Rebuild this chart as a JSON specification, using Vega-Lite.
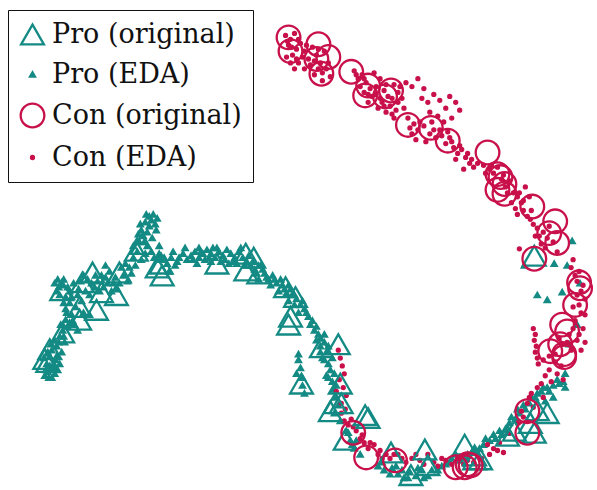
{
  "$schema": "https://vega.github.io/schema/vega-lite/v6.json",
  "width": 597,
  "height": 490,
  "autosize": {"type": "fit", "contains": "padding"},
  "padding": 0,
  "background": "white",
  "config": {
    "font": "DejaVu Serif",
    "view": {"stroke": null},
    "legend": {
      "labelFont": "DejaVu Serif",
      "labelFontSize": 27,
      "labelLimit": 400,
      "labelColor": "#111111",
      "labelOffset": 6,
      "rowPadding": 11,
      "padding": 11,
      "fillColor": "white",
      "strokeColor": "#111111",
      "symbolStrokeWidth": 2.3
    }
  },
  "data": {
    "values": [
      {"g":"Pro (EDA)","x":45,"y":382},{"g":"Pro (EDA)","x":48,"y":378},{"g":"Pro (EDA)","x":52,"y":384},{"g":"Pro (EDA)","x":55,"y":380},{"g":"Pro (EDA)","x":50,"y":372},{"g":"Pro (EDA)","x":47,"y":370},{"g":"Pro (EDA)","x":53,"y":374},{"g":"Pro (EDA)","x":58,"y":376},{"g":"Pro (EDA)","x":44,"y":364},{"g":"Pro (EDA)","x":50,"y":362},{"g":"Pro (EDA)","x":56,"y":366},{"g":"Pro (EDA)","x":60,"y":370},{"g":"Pro (EDA)","x":52,"y":356},{"g":"Pro (EDA)","x":57,"y":352},{"g":"Pro (EDA)","x":62,"y":358},{"g":"Pro (EDA)","x":55,"y":346},{"g":"Pro (EDA)","x":60,"y":342},{"g":"Pro (EDA)","x":65,"y":348},{"g":"Pro (EDA)","x":63,"y":336},{"g":"Pro (EDA)","x":68,"y":332},{"g":"Pro (EDA)","x":70,"y":328},{"g":"Pro (EDA)","x":66,"y":325},{"g":"Pro (EDA)","x":72,"y":320},{"g":"Pro (EDA)","x":75,"y":330},{"g":"Pro (EDA)","x":78,"y":336},
      {"g":"Pro (EDA)","x":55,"y":288},{"g":"Pro (EDA)","x":58,"y":284},{"g":"Pro (EDA)","x":62,"y":290},{"g":"Pro (EDA)","x":57,"y":296},{"g":"Pro (EDA)","x":60,"y":300},{"g":"Pro (EDA)","x":66,"y":302},{"g":"Pro (EDA)","x":70,"y":296},{"g":"Pro (EDA)","x":74,"y":288},{"g":"Pro (EDA)","x":78,"y":300},{"g":"Pro (EDA)","x":82,"y":306},{"g":"Pro (EDA)","x":86,"y":296},{"g":"Pro (EDA)","x":90,"y":300},{"g":"Pro (EDA)","x":95,"y":292},{"g":"Pro (EDA)","x":88,"y":284},{"g":"Pro (EDA)","x":84,"y":280},{"g":"Pro (EDA)","x":98,"y":286},{"g":"Pro (EDA)","x":102,"y":280},{"g":"Pro (EDA)","x":104,"y":292},{"g":"Pro (EDA)","x":108,"y":288},{"g":"Pro (EDA)","x":112,"y":296},{"g":"Pro (EDA)","x":116,"y":282},{"g":"Pro (EDA)","x":120,"y":288},{"g":"Pro (EDA)","x":124,"y":280},{"g":"Pro (EDA)","x":128,"y":286},{"g":"Pro (EDA)","x":132,"y":278},{"g":"Pro (EDA)","x":110,"y":276},{"g":"Pro (EDA)","x":106,"y":270},{"g":"Pro (EDA)","x":70,"y":308},{"g":"Pro (EDA)","x":76,"y":312},{"g":"Pro (EDA)","x":84,"y":318},{"g":"Pro (EDA)","x":90,"y":320},{"g":"Pro (EDA)","x":66,"y":314},
      {"g":"Pro (EDA)","x":134,"y":262},{"g":"Pro (EDA)","x":138,"y":256},{"g":"Pro (EDA)","x":136,"y":270},{"g":"Pro (EDA)","x":142,"y":264},{"g":"Pro (EDA)","x":146,"y":258},{"g":"Pro (EDA)","x":140,"y":246},{"g":"Pro (EDA)","x":144,"y":240},{"g":"Pro (EDA)","x":148,"y":236},{"g":"Pro (EDA)","x":150,"y":230},{"g":"Pro (EDA)","x":146,"y":226},{"g":"Pro (EDA)","x":152,"y":224},{"g":"Pro (EDA)","x":156,"y":228},{"g":"Pro (EDA)","x":150,"y":220},{"g":"Pro (EDA)","x":158,"y":222},{"g":"Pro (EDA)","x":142,"y":234},{"g":"Pro (EDA)","x":138,"y":244},{"g":"Pro (EDA)","x":148,"y":250},{"g":"Pro (EDA)","x":152,"y":256},{"g":"Pro (EDA)","x":155,"y":262},{"g":"Pro (EDA)","x":160,"y":258},{"g":"Pro (EDA)","x":165,"y":262},{"g":"Pro (EDA)","x":168,"y":268},{"g":"Pro (EDA)","x":172,"y":262},{"g":"Pro (EDA)","x":170,"y":276},{"g":"Pro (EDA)","x":176,"y":270},
      {"g":"Pro (EDA)","x":180,"y":262},{"g":"Pro (EDA)","x":184,"y":258},{"g":"Pro (EDA)","x":188,"y":264},{"g":"Pro (EDA)","x":192,"y":260},{"g":"Pro (EDA)","x":196,"y":256},{"g":"Pro (EDA)","x":200,"y":262},{"g":"Pro (EDA)","x":204,"y":258},{"g":"Pro (EDA)","x":208,"y":254},{"g":"Pro (EDA)","x":212,"y":258},{"g":"Pro (EDA)","x":216,"y":262},{"g":"Pro (EDA)","x":220,"y":256},{"g":"Pro (EDA)","x":224,"y":260},{"g":"Pro (EDA)","x":228,"y":254},{"g":"Pro (EDA)","x":232,"y":258},{"g":"Pro (EDA)","x":236,"y":262},{"g":"Pro (EDA)","x":240,"y":256},{"g":"Pro (EDA)","x":244,"y":262},{"g":"Pro (EDA)","x":212,"y":266},{"g":"Pro (EDA)","x":222,"y":266},{"g":"Pro (EDA)","x":230,"y":268},{"g":"Pro (EDA)","x":200,"y":252},{"g":"Pro (EDA)","x":206,"y":264},{"g":"Pro (EDA)","x":218,"y":252},{"g":"Pro (EDA)","x":238,"y":268},
      {"g":"Pro (EDA)","x":248,"y":266},{"g":"Pro (EDA)","x":252,"y":270},{"g":"Pro (EDA)","x":256,"y":274},{"g":"Pro (EDA)","x":262,"y":270},{"g":"Pro (EDA)","x":266,"y":278},{"g":"Pro (EDA)","x":270,"y":284},{"g":"Pro (EDA)","x":274,"y":280},{"g":"Pro (EDA)","x":278,"y":288},{"g":"Pro (EDA)","x":282,"y":284},{"g":"Pro (EDA)","x":286,"y":294},{"g":"Pro (EDA)","x":290,"y":290},{"g":"Pro (EDA)","x":294,"y":300},{"g":"Pro (EDA)","x":298,"y":304},{"g":"Pro (EDA)","x":302,"y":310},{"g":"Pro (EDA)","x":306,"y":314},{"g":"Pro (EDA)","x":280,"y":296},{"g":"Pro (EDA)","x":272,"y":290},{"g":"Pro (EDA)","x":260,"y":284},{"g":"Pro (EDA)","x":290,"y":306},{"g":"Pro (EDA)","x":300,"y":318},{"g":"Pro (EDA)","x":310,"y":322},
      {"g":"Pro (EDA)","x":312,"y":330},{"g":"Pro (EDA)","x":316,"y":336},{"g":"Pro (EDA)","x":320,"y":340},{"g":"Pro (EDA)","x":318,"y":346},{"g":"Pro (EDA)","x":322,"y":352},{"g":"Pro (EDA)","x":326,"y":348},{"g":"Pro (EDA)","x":328,"y":358},{"g":"Pro (EDA)","x":324,"y":364},{"g":"Pro (EDA)","x":330,"y":370},{"g":"Pro (EDA)","x":332,"y":376},{"g":"Pro (EDA)","x":328,"y":382},{"g":"Pro (EDA)","x":334,"y":388},{"g":"Pro (EDA)","x":300,"y":366},{"g":"Pro (EDA)","x":302,"y":374},{"g":"Pro (EDA)","x":298,"y":380},{"g":"Pro (EDA)","x":304,"y":392},{"g":"Pro (EDA)","x":306,"y":400},{"g":"Pro (EDA)","x":336,"y":396},{"g":"Pro (EDA)","x":338,"y":404},{"g":"Pro (EDA)","x":340,"y":412},{"g":"Pro (EDA)","x":336,"y":420},{"g":"Pro (EDA)","x":342,"y":428},
      {"g":"Pro (EDA)","x":348,"y":438},{"g":"Pro (EDA)","x":352,"y":448},{"g":"Pro (EDA)","x":356,"y":456},{"g":"Pro (EDA)","x":362,"y":462},{"g":"Pro (EDA)","x":380,"y":474},{"g":"Pro (EDA)","x":386,"y":478},{"g":"Pro (EDA)","x":394,"y":476},{"g":"Pro (EDA)","x":400,"y":482},{"g":"Pro (EDA)","x":406,"y":486},{"g":"Pro (EDA)","x":412,"y":480},{"g":"Pro (EDA)","x":418,"y":484},{"g":"Pro (EDA)","x":424,"y":478},{"g":"Pro (EDA)","x":430,"y":484},{"g":"Pro (EDA)","x":440,"y":478},{"g":"Pro (EDA)","x":448,"y":472},{"g":"Pro (EDA)","x":454,"y":466},{"g":"Pro (EDA)","x":462,"y":468},{"g":"Pro (EDA)","x":470,"y":462},{"g":"Pro (EDA)","x":478,"y":458},{"g":"Pro (EDA)","x":486,"y":452},{"g":"Pro (EDA)","x":492,"y":448},{"g":"Pro (EDA)","x":498,"y":446},{"g":"Pro (EDA)","x":504,"y":442},
      {"g":"Pro (EDA)","x":508,"y":436},{"g":"Pro (EDA)","x":512,"y":430},{"g":"Pro (EDA)","x":518,"y":426},{"g":"Pro (EDA)","x":522,"y":420},{"g":"Pro (EDA)","x":528,"y":416},{"g":"Pro (EDA)","x":532,"y":410},{"g":"Pro (EDA)","x":538,"y":404},{"g":"Pro (EDA)","x":544,"y":398},{"g":"Pro (EDA)","x":550,"y":394},{"g":"Pro (EDA)","x":556,"y":392},{"g":"Pro (EDA)","x":562,"y":390},{"g":"Pro (EDA)","x":568,"y":394},{"g":"Pro (EDA)","x":548,"y":408},{"g":"Pro (EDA)","x":556,"y":404},
      {"g":"Pro (EDA)","x":527,"y":270},{"g":"Pro (EDA)","x":557,"y":268},{"g":"Pro (EDA)","x":570,"y":270},{"g":"Pro (EDA)","x":565,"y":297},{"g":"Pro (EDA)","x":550,"y":305},{"g":"Pro (EDA)","x":575,"y":245},{"g":"Pro (EDA)","x":583,"y":288},{"g":"Pro (EDA)","x":580,"y":330},{"g":"Pro (EDA)","x":540,"y":300},{"g":"Pro (EDA)","x":572,"y":350},{"g":"Pro (EDA)","x":568,"y":380},
      {"g":"Pro (EDA)","x":46,"y":376},{"g":"Pro (EDA)","x":49,"y":384},{"g":"Pro (EDA)","x":54,"y":370},{"g":"Pro (EDA)","x":57,"y":362},{"g":"Pro (EDA)","x":51,"y":350},{"g":"Pro (EDA)","x":48,"y":358},{"g":"Pro (EDA)","x":59,"y":348},{"g":"Pro (EDA)","x":64,"y":342},{"g":"Pro (EDA)","x":61,"y":330},{"g":"Pro (EDA)","x":67,"y":318},{"g":"Pro (EDA)","x":73,"y":326},{"g":"Pro (EDA)","x":64,"y":308},{"g":"Pro (EDA)","x":59,"y":292},{"g":"Pro (EDA)","x":64,"y":284},{"g":"Pro (EDA)","x":68,"y":292},{"g":"Pro (EDA)","x":72,"y":302},{"g":"Pro (EDA)","x":79,"y":294},{"g":"Pro (EDA)","x":81,"y":286},{"g":"Pro (EDA)","x":92,"y":288},{"g":"Pro (EDA)","x":96,"y":280},{"g":"Pro (EDA)","x":100,"y":296},{"g":"Pro (EDA)","x":106,"y":282},{"g":"Pro (EDA)","x":114,"y":288},{"g":"Pro (EDA)","x":118,"y":294},{"g":"Pro (EDA)","x":122,"y":272},{"g":"Pro (EDA)","x":126,"y":268},{"g":"Pro (EDA)","x":130,"y":272},{"g":"Pro (EDA)","x":134,"y":250},{"g":"Pro (EDA)","x":139,"y":238},{"g":"Pro (EDA)","x":145,"y":246},{"g":"Pro (EDA)","x":141,"y":228},{"g":"Pro (EDA)","x":147,"y":218},{"g":"Pro (EDA)","x":154,"y":218},{"g":"Pro (EDA)","x":157,"y":234},{"g":"Pro (EDA)","x":153,"y":242},{"g":"Pro (EDA)","x":160,"y":250},{"g":"Pro (EDA)","x":162,"y":264},{"g":"Pro (EDA)","x":174,"y":256},{"g":"Pro (EDA)","x":178,"y":266},{"g":"Pro (EDA)","x":186,"y":252},{"g":"Pro (EDA)","x":194,"y":264},{"g":"Pro (EDA)","x":198,"y":268},{"g":"Pro (EDA)","x":202,"y":256},{"g":"Pro (EDA)","x":210,"y":262},{"g":"Pro (EDA)","x":214,"y":252},{"g":"Pro (EDA)","x":226,"y":264},{"g":"Pro (EDA)","x":234,"y":266},{"g":"Pro (EDA)","x":242,"y":252},{"g":"Pro (EDA)","x":246,"y":270},{"g":"Pro (EDA)","x":250,"y":260},{"g":"Pro (EDA)","x":254,"y":266},{"g":"Pro (EDA)","x":258,"y":278},{"g":"Pro (EDA)","x":264,"y":274},{"g":"Pro (EDA)","x":268,"y":282},{"g":"Pro (EDA)","x":276,"y":284},{"g":"Pro (EDA)","x":284,"y":290},{"g":"Pro (EDA)","x":288,"y":298},{"g":"Pro (EDA)","x":292,"y":294},{"g":"Pro (EDA)","x":296,"y":310},{"g":"Pro (EDA)","x":304,"y":306},{"g":"Pro (EDA)","x":308,"y":318},{"g":"Pro (EDA)","x":314,"y":326},{"g":"Pro (EDA)","x":318,"y":332},{"g":"Pro (EDA)","x":322,"y":344},{"g":"Pro (EDA)","x":326,"y":340},{"g":"Pro (EDA)","x":330,"y":352},{"g":"Pro (EDA)","x":326,"y":366},{"g":"Pro (EDA)","x":322,"y":358},{"g":"Pro (EDA)","x":334,"y":364},{"g":"Pro (EDA)","x":330,"y":384},{"g":"Pro (EDA)","x":336,"y":380},{"g":"Pro (EDA)","x":338,"y":392},{"g":"Pro (EDA)","x":304,"y":384},{"g":"Pro (EDA)","x":300,"y":360},{"g":"Pro (EDA)","x":350,"y":440},{"g":"Pro (EDA)","x":354,"y":452},{"g":"Pro (EDA)","x":358,"y":448},{"g":"Pro (EDA)","x":384,"y":470},{"g":"Pro (EDA)","x":392,"y":482},{"g":"Pro (EDA)","x":398,"y":474},{"g":"Pro (EDA)","x":404,"y":478},{"g":"Pro (EDA)","x":410,"y":486},{"g":"Pro (EDA)","x":420,"y":476},{"g":"Pro (EDA)","x":426,"y":486},{"g":"Pro (EDA)","x":434,"y":478},{"g":"Pro (EDA)","x":444,"y":474},{"g":"Pro (EDA)","x":452,"y":470},{"g":"Pro (EDA)","x":458,"y":462},{"g":"Pro (EDA)","x":466,"y":466},{"g":"Pro (EDA)","x":474,"y":460},{"g":"Pro (EDA)","x":482,"y":456},{"g":"Pro (EDA)","x":488,"y":446},{"g":"Pro (EDA)","x":496,"y":442},{"g":"Pro (EDA)","x":502,"y":438},{"g":"Pro (EDA)","x":510,"y":440},{"g":"Pro (EDA)","x":514,"y":424},{"g":"Pro (EDA)","x":520,"y":416},{"g":"Pro (EDA)","x":526,"y":412},{"g":"Pro (EDA)","x":534,"y":404},{"g":"Pro (EDA)","x":540,"y":400},{"g":"Pro (EDA)","x":546,"y":394},{"g":"Pro (EDA)","x":552,"y":398},{"g":"Pro (EDA)","x":560,"y":386},{"g":"Pro (EDA)","x":566,"y":388},

      {"g":"Con (EDA)","x":287,"y":36},{"g":"Con (EDA)","x":292,"y":40},{"g":"Con (EDA)","x":296,"y":34},{"g":"Con (EDA)","x":290,"y":46},{"g":"Con (EDA)","x":298,"y":50},{"g":"Con (EDA)","x":294,"y":56},{"g":"Con (EDA)","x":288,"y":58},{"g":"Con (EDA)","x":302,"y":44},{"g":"Con (EDA)","x":306,"y":52},{"g":"Con (EDA)","x":310,"y":60},{"g":"Con (EDA)","x":314,"y":48},{"g":"Con (EDA)","x":318,"y":56},{"g":"Con (EDA)","x":322,"y":64},{"g":"Con (EDA)","x":326,"y":52},{"g":"Con (EDA)","x":320,"y":70},{"g":"Con (EDA)","x":316,"y":76},{"g":"Con (EDA)","x":328,"y":70},{"g":"Con (EDA)","x":332,"y":78},{"g":"Con (EDA)","x":324,"y":82},{"g":"Con (EDA)","x":300,"y":64},{"g":"Con (EDA)","x":306,"y":70},{"g":"Con (EDA)","x":296,"y":70},
      {"g":"Con (EDA)","x":356,"y":72},{"g":"Con (EDA)","x":360,"y":80},{"g":"Con (EDA)","x":364,"y":76},{"g":"Con (EDA)","x":368,"y":84},{"g":"Con (EDA)","x":372,"y":90},{"g":"Con (EDA)","x":366,"y":94},{"g":"Con (EDA)","x":374,"y":98},{"g":"Con (EDA)","x":378,"y":88},{"g":"Con (EDA)","x":382,"y":80},{"g":"Con (EDA)","x":386,"y":92},{"g":"Con (EDA)","x":390,"y":98},{"g":"Con (EDA)","x":384,"y":104},{"g":"Con (EDA)","x":392,"y":108},{"g":"Con (EDA)","x":396,"y":86},{"g":"Con (EDA)","x":400,"y":94},{"g":"Con (EDA)","x":404,"y":100},{"g":"Con (EDA)","x":398,"y":112},{"g":"Con (EDA)","x":388,"y":114},{"g":"Con (EDA)","x":380,"y":110},{"g":"Con (EDA)","x":362,"y":88},{"g":"Con (EDA)","x":376,"y":74},{"g":"Con (EDA)","x":370,"y":104},{"g":"Con (EDA)","x":394,"y":116},{"g":"Con (EDA)","x":406,"y":110},
      {"g":"Con (EDA)","x":408,"y":84},{"g":"Con (EDA)","x":414,"y":88},{"g":"Con (EDA)","x":420,"y":80},{"g":"Con (EDA)","x":426,"y":90},{"g":"Con (EDA)","x":424,"y":100},{"g":"Con (EDA)","x":430,"y":104},{"g":"Con (EDA)","x":436,"y":96},{"g":"Con (EDA)","x":442,"y":102},{"g":"Con (EDA)","x":448,"y":110},{"g":"Con (EDA)","x":452,"y":98},{"g":"Con (EDA)","x":458,"y":104},{"g":"Con (EDA)","x":462,"y":112},{"g":"Con (EDA)","x":440,"y":118},{"g":"Con (EDA)","x":446,"y":124},{"g":"Con (EDA)","x":454,"y":120},{"g":"Con (EDA)","x":432,"y":114},
      {"g":"Con (EDA)","x":410,"y":120},{"g":"Con (EDA)","x":416,"y":126},{"g":"Con (EDA)","x":420,"y":132},{"g":"Con (EDA)","x":414,"y":136},{"g":"Con (EDA)","x":426,"y":128},{"g":"Con (EDA)","x":432,"y":136},{"g":"Con (EDA)","x":438,"y":140},{"g":"Con (EDA)","x":442,"y":132},{"g":"Con (EDA)","x":448,"y":146},{"g":"Con (EDA)","x":452,"y":140},{"g":"Con (EDA)","x":456,"y":150},{"g":"Con (EDA)","x":460,"y":156},{"g":"Con (EDA)","x":464,"y":152},{"g":"Con (EDA)","x":468,"y":160},{"g":"Con (EDA)","x":472,"y":166},{"g":"Con (EDA)","x":476,"y":170},{"g":"Con (EDA)","x":466,"y":172},{"g":"Con (EDA)","x":458,"y":162},{"g":"Con (EDA)","x":428,"y":144},{"g":"Con (EDA)","x":418,"y":142},
      {"g":"Con (EDA)","x":486,"y":168},{"g":"Con (EDA)","x":492,"y":172},{"g":"Con (EDA)","x":496,"y":176},{"g":"Con (EDA)","x":500,"y":170},{"g":"Con (EDA)","x":504,"y":182},{"g":"Con (EDA)","x":508,"y":190},{"g":"Con (EDA)","x":512,"y":184},{"g":"Con (EDA)","x":516,"y":196},{"g":"Con (EDA)","x":520,"y":200},{"g":"Con (EDA)","x":524,"y":206},{"g":"Con (EDA)","x":518,"y":212},{"g":"Con (EDA)","x":526,"y":214},{"g":"Con (EDA)","x":530,"y":220},{"g":"Con (EDA)","x":522,"y":196},{"g":"Con (EDA)","x":528,"y":190},{"g":"Con (EDA)","x":533,"y":223},{"g":"Con (EDA)","x":532,"y":200},
      {"g":"Con (EDA)","x":540,"y":232},{"g":"Con (EDA)","x":546,"y":236},{"g":"Con (EDA)","x":550,"y":242},{"g":"Con (EDA)","x":556,"y":246},{"g":"Con (EDA)","x":544,"y":248},{"g":"Con (EDA)","x":522,"y":253},{"g":"Con (EDA)","x":538,"y":240},{"g":"Con (EDA)","x":560,"y":256},
      {"g":"Con (EDA)","x":574,"y":272},{"g":"Con (EDA)","x":578,"y":280},{"g":"Con (EDA)","x":582,"y":276},{"g":"Con (EDA)","x":586,"y":290},{"g":"Con (EDA)","x":580,"y":300},{"g":"Con (EDA)","x":588,"y":304},{"g":"Con (EDA)","x":576,"y":312},{"g":"Con (EDA)","x":584,"y":318},{"g":"Con (EDA)","x":578,"y":326},{"g":"Con (EDA)","x":586,"y":334},{"g":"Con (EDA)","x":572,"y":340},{"g":"Con (EDA)","x":580,"y":346},{"g":"Con (EDA)","x":574,"y":356},{"g":"Con (EDA)","x":566,"y":350},{"g":"Con (EDA)","x":562,"y":344},{"g":"Con (EDA)","x":588,"y":348},
      {"g":"Con (EDA)","x":536,"y":334},{"g":"Con (EDA)","x":538,"y":340},{"g":"Con (EDA)","x":537,"y":346},{"g":"Con (EDA)","x":539,"y":352},{"g":"Con (EDA)","x":538,"y":358},{"g":"Con (EDA)","x":540,"y":364},{"g":"Con (EDA)","x":541,"y":370},
      {"g":"Con (EDA)","x":546,"y":366},{"g":"Con (EDA)","x":552,"y":362},{"g":"Con (EDA)","x":558,"y":368},{"g":"Con (EDA)","x":564,"y":372},{"g":"Con (EDA)","x":560,"y":380},{"g":"Con (EDA)","x":566,"y":386},{"g":"Con (EDA)","x":554,"y":388},{"g":"Con (EDA)","x":548,"y":382},{"g":"Con (EDA)","x":540,"y":394},{"g":"Con (EDA)","x":534,"y":400},{"g":"Con (EDA)","x":546,"y":404},{"g":"Con (EDA)","x":530,"y":410},{"g":"Con (EDA)","x":536,"y":414},{"g":"Con (EDA)","x":526,"y":424},{"g":"Con (EDA)","x":520,"y":430},
      {"g":"Con (EDA)","x":490,"y":452},{"g":"Con (EDA)","x":496,"y":456},{"g":"Con (EDA)","x":502,"y":450},{"g":"Con (EDA)","x":506,"y":460},{"g":"Con (EDA)","x":492,"y":462},{"g":"Con (EDA)","x":484,"y":466},
      {"g":"Con (EDA)","x":343,"y":420},{"g":"Con (EDA)","x":346,"y":428},{"g":"Con (EDA)","x":350,"y":432},{"g":"Con (EDA)","x":353,"y":426},{"g":"Con (EDA)","x":358,"y":438},{"g":"Con (EDA)","x":362,"y":446},{"g":"Con (EDA)","x":366,"y":450},{"g":"Con (EDA)","x":370,"y":456},{"g":"Con (EDA)","x":376,"y":452},{"g":"Con (EDA)","x":382,"y":458},{"g":"Con (EDA)","x":388,"y":462},{"g":"Con (EDA)","x":384,"y":466},{"g":"Con (EDA)","x":392,"y":466},{"g":"Con (EDA)","x":400,"y":462},{"g":"Con (EDA)","x":408,"y":470},{"g":"Con (EDA)","x":414,"y":466},{"g":"Con (EDA)","x":422,"y":468},{"g":"Con (EDA)","x":430,"y":462},{"g":"Con (EDA)","x":436,"y":470},{"g":"Con (EDA)","x":440,"y":474},{"g":"Con (EDA)","x":448,"y":468},{"g":"Con (EDA)","x":460,"y":466},{"g":"Con (EDA)","x":466,"y":472},{"g":"Con (EDA)","x":472,"y":464},{"g":"Con (EDA)","x":476,"y":470},
      {"g":"Con (EDA)","x":340,"y":356},{"g":"Con (EDA)","x":342,"y":364},{"g":"Con (EDA)","x":344,"y":372},{"g":"Con (EDA)","x":346,"y":380},{"g":"Con (EDA)","x":341,"y":386},{"g":"Con (EDA)","x":345,"y":394},{"g":"Con (EDA)","x":348,"y":402},{"g":"Con (EDA)","x":343,"y":410},{"g":"Con (EDA)","x":347,"y":416},{"g":"Con (EDA)","x":338,"y":398},
      {"g":"Con (EDA)","x":289,"y":42},{"g":"Con (EDA)","x":293,"y":48},{"g":"Con (EDA)","x":300,"y":40},{"g":"Con (EDA)","x":304,"y":58},{"g":"Con (EDA)","x":308,"y":46},{"g":"Con (EDA)","x":312,"y":66},{"g":"Con (EDA)","x":316,"y":62},{"g":"Con (EDA)","x":320,"y":50},{"g":"Con (EDA)","x":324,"y":74},{"g":"Con (EDA)","x":330,"y":64},{"g":"Con (EDA)","x":298,"y":60},{"g":"Con (EDA)","x":292,"y":64},
      {"g":"Con (EDA)","x":358,"y":76},{"g":"Con (EDA)","x":366,"y":80},{"g":"Con (EDA)","x":370,"y":96},{"g":"Con (EDA)","x":378,"y":96},{"g":"Con (EDA)","x":382,"y":100},{"g":"Con (EDA)","x":388,"y":86},{"g":"Con (EDA)","x":394,"y":100},{"g":"Con (EDA)","x":400,"y":104},{"g":"Con (EDA)","x":396,"y":120},{"g":"Con (EDA)","x":386,"y":108},{"g":"Con (EDA)","x":402,"y":88},
      {"g":"Con (EDA)","x":412,"y":130},{"g":"Con (EDA)","x":422,"y":124},{"g":"Con (EDA)","x":434,"y":124},{"g":"Con (EDA)","x":436,"y":132},{"g":"Con (EDA)","x":444,"y":138},{"g":"Con (EDA)","x":450,"y":134},{"g":"Con (EDA)","x":454,"y":144},{"g":"Con (EDA)","x":462,"y":148},{"g":"Con (EDA)","x":470,"y":156},{"g":"Con (EDA)","x":474,"y":162},{"g":"Con (EDA)","x":480,"y":166},{"g":"Con (EDA)","x":488,"y":176},{"g":"Con (EDA)","x":494,"y":168},{"g":"Con (EDA)","x":506,"y":178},{"g":"Con (EDA)","x":510,"y":196},{"g":"Con (EDA)","x":514,"y":206},{"g":"Con (EDA)","x":520,"y":218},{"g":"Con (EDA)","x":526,"y":204},{"g":"Con (EDA)","x":534,"y":214},{"g":"Con (EDA)","x":536,"y":228},{"g":"Con (EDA)","x":542,"y":240},{"g":"Con (EDA)","x":548,"y":252},{"g":"Con (EDA)","x":552,"y":230},
      {"g":"Con (EDA)","x":576,"y":264},{"g":"Con (EDA)","x":580,"y":286},{"g":"Con (EDA)","x":584,"y":296},{"g":"Con (EDA)","x":582,"y":310},{"g":"Con (EDA)","x":588,"y":320},{"g":"Con (EDA)","x":576,"y":334},{"g":"Con (EDA)","x":582,"y":340},{"g":"Con (EDA)","x":570,"y":348},{"g":"Con (EDA)","x":584,"y":356},
      {"g":"Con (EDA)","x":355,"y":434},{"g":"Con (EDA)","x":364,"y":442},{"g":"Con (EDA)","x":372,"y":450},{"g":"Con (EDA)","x":380,"y":462},{"g":"Con (EDA)","x":396,"y":462},{"g":"Con (EDA)","x":404,"y":466},{"g":"Con (EDA)","x":418,"y":462},{"g":"Con (EDA)","x":426,"y":472},{"g":"Con (EDA)","x":444,"y":466},{"g":"Con (EDA)","x":454,"y":472},{"g":"Con (EDA)","x":470,"y":468},{"g":"Con (EDA)","x":500,"y":458},{"g":"Con (EDA)","x":512,"y":440},{"g":"Con (EDA)","x":524,"y":418},{"g":"Con (EDA)","x":532,"y":404},{"g":"Con (EDA)","x":544,"y":390},{"g":"Con (EDA)","x":552,"y":376},{"g":"Con (EDA)","x":558,"y":360},

      {"g":"Pro (original)","x":45,"y":365},{"g":"Pro (original)","x":48,"y":368},{"g":"Pro (original)","x":50,"y":355},{"g":"Pro (original)","x":63,"y":338},{"g":"Pro (original)","x":80,"y":325},{"g":"Pro (original)","x":80,"y":312},{"g":"Pro (original)","x":97,"y":315},{"g":"Pro (original)","x":62,"y":295},{"g":"Pro (original)","x":83,"y":287},{"g":"Pro (original)","x":102,"y":297},{"g":"Pro (original)","x":117,"y":300},{"g":"Pro (original)","x":93,"y":277},{"g":"Pro (original)","x":120,"y":277},{"g":"Pro (original)","x":137,"y":255},{"g":"Pro (original)","x":143,"y":248},{"g":"Pro (original)","x":158,"y":272},{"g":"Pro (original)","x":163,"y":280},{"g":"Pro (original)","x":162,"y":268},{"g":"Pro (original)","x":218,"y":268},{"g":"Pro (original)","x":247,"y":258},{"g":"Pro (original)","x":255,"y":262},{"g":"Pro (original)","x":247,"y":275},{"g":"Pro (original)","x":260,"y":278},{"g":"Pro (original)","x":287,"y":292},{"g":"Pro (original)","x":297,"y":302},{"g":"Pro (original)","x":292,"y":322},{"g":"Pro (original)","x":290,"y":330},{"g":"Pro (original)","x":323,"y":353},{"g":"Pro (original)","x":340,"y":350},{"g":"Pro (original)","x":303,"y":390},{"g":"Pro (original)","x":342,"y":390},{"g":"Pro (original)","x":337,"y":410},{"g":"Pro (original)","x":332,"y":418},{"g":"Pro (original)","x":367,"y":422},{"g":"Pro (original)","x":343,"y":410},{"g":"Pro (original)","x":370,"y":425},{"g":"Pro (original)","x":347,"y":447},{"g":"Pro (original)","x":393,"y":460},{"g":"Pro (original)","x":413,"y":483},{"g":"Pro (original)","x":427,"y":457},{"g":"Pro (original)","x":430,"y":473},{"g":"Pro (original)","x":467,"y":452},{"g":"Pro (original)","x":477,"y":467},{"g":"Pro (original)","x":540,"y":417},{"g":"Pro (original)","x":550,"y":420},{"g":"Pro (original)","x":533,"y":430},{"g":"Pro (original)","x":517,"y":438},{"g":"Pro (original)","x":537,"y":440},{"g":"Pro (original)","x":510,"y":443},{"g":"Pro (original)","x":477,"y":463},{"g":"Pro (original)","x":483,"y":467},{"g":"Pro (original)","x":537,"y":260},

      {"g":"Con (original)","x":290,"y":38},{"g":"Con (original)","x":292,"y":52},{"g":"Con (original)","x":320,"y":45},{"g":"Con (original)","x":318,"y":60},{"g":"Con (original)","x":323,"y":75},{"g":"Con (original)","x":330,"y":58},{"g":"Con (original)","x":353,"y":73},{"g":"Con (original)","x":370,"y":87},{"g":"Con (original)","x":367,"y":97},{"g":"Con (original)","x":387,"y":98},{"g":"Con (original)","x":393,"y":92},{"g":"Con (original)","x":410,"y":127},{"g":"Con (original)","x":433,"y":130},{"g":"Con (original)","x":450,"y":143},{"g":"Con (original)","x":490,"y":155},{"g":"Con (original)","x":500,"y":177},{"g":"Con (original)","x":500,"y":193},{"g":"Con (original)","x":507,"y":187},{"g":"Con (original)","x":503,"y":180},{"g":"Con (original)","x":507,"y":197},{"g":"Con (original)","x":535,"y":210},{"g":"Con (original)","x":558,"y":225},{"g":"Con (original)","x":552,"y":237},{"g":"Con (original)","x":560,"y":247},{"g":"Con (original)","x":537,"y":263},{"g":"Con (original)","x":582,"y":287},{"g":"Con (original)","x":583,"y":293},{"g":"Con (original)","x":578,"y":310},{"g":"Con (original)","x":565,"y":330},{"g":"Con (original)","x":570,"y":337},{"g":"Con (original)","x":563,"y":350},{"g":"Con (original)","x":567,"y":360},{"g":"Con (original)","x":553,"y":357},{"g":"Con (original)","x":567,"y":363},{"g":"Con (original)","x":530,"y":418},{"g":"Con (original)","x":530,"y":440},{"g":"Con (original)","x":473,"y":473},{"g":"Con (original)","x":355,"y":440},{"g":"Con (original)","x":368,"y":465},{"g":"Con (original)","x":397,"y":468},{"g":"Con (original)","x":458,"y":475},{"g":"Con (original)","x":467,"y":475},{"g":"Con (original)","x":470,"y":472}
    ]
  },
  "mark": {"type": "point", "strokeWidth": 2.3, "opacity": 1},
  "encoding": {
    "x": {"field": "x", "type": "quantitative", "scale": {"domain": [0, 597]}, "axis": null},
    "y": {"field": "y", "type": "quantitative", "scale": {"domain": [0, 490], "reverse": true}, "axis": null},
    "stroke": {
      "field": "g", "type": "nominal", "title": null,
      "scale": {"domain": ["Pro (original)", "Pro (EDA)", "Con (original)", "Con (EDA)"], "range": ["#148A84", "#148A84", "#C8104A", "#C8104A"]},
      "legend": {"orient": "none", "legendX": 8, "legendY": 10, "encode": {"legend": {"update": {"strokeWidth": {"value": 2.5}}}, "labels": {"update": {"font": {"value": "DejaVu Serif"}}}}}
    },
    "fill": {
      "field": "g", "type": "nominal", "title": null,
      "scale": {"domain": ["Pro (original)", "Pro (EDA)", "Con (original)", "Con (EDA)"], "range": ["transparent", "#148A84", "transparent", "#C8104A"]},
      "legend": {"orient": "none", "legendX": 8, "legendY": 10, "encode": {"legend": {"update": {"strokeWidth": {"value": 2.5}}}, "labels": {"update": {"font": {"value": "DejaVu Serif"}}}}}
    },
    "shape": {
      "field": "g", "type": "nominal", "title": null,
      "scale": {"domain": ["Pro (original)", "Pro (EDA)", "Con (original)", "Con (EDA)"], "range": ["triangle-up", "triangle-up", "circle", "circle"]},
      "legend": {"orient": "none", "legendX": 8, "legendY": 10, "encode": {"legend": {"update": {"strokeWidth": {"value": 2.5}}}, "labels": {"update": {"font": {"value": "DejaVu Serif"}}}}}
    },
    "size": {
      "field": "g", "type": "nominal", "title": null,
      "scale": {"type": "ordinal", "domain": ["Pro (original)", "Pro (EDA)", "Con (original)", "Con (EDA)"], "range": [520, 24, 560, 9]},
      "legend": {"orient": "none", "legendX": 8, "legendY": 10, "encode": {"legend": {"update": {"strokeWidth": {"value": 2.5}}}, "labels": {"update": {"font": {"value": "DejaVu Serif"}}}}}
    }
  }
}
